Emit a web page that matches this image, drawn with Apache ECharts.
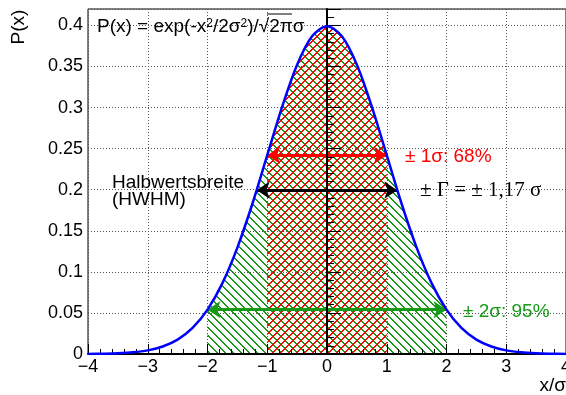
<!DOCTYPE html>
<html>
<head>
<meta charset="utf-8">
<script src="https://cdn.jsdelivr.net/npm/echarts@6/dist/echarts.min.js"></script>
<style>
html, body { margin: 0; padding: 0; background: #fff; }
#main { width: 566px; height: 395px; }
</style>
</head>
<body>
<div id="main"></div>
<script>
// x in units of sigma, P(x)
var xs = [-4, -3.75, -3.5, -3.25, -3, -2.75, -2.5, -2.25, -2, -1.75, -1.5, -1.25, -1, -0.75, -0.5, -0.25,
          0, 0.25, 0.5, 0.75, 1, 1.25, 1.5, 1.75, 2, 2.25, 2.5, 2.75, 3, 3.25, 3.5, 3.75, 4];
var ps = [0.0001, 0.0004, 0.0009, 0.0020, 0.0044, 0.0091, 0.0175, 0.0317, 0.0540, 0.0863, 0.1295, 0.1826, 0.2420, 0.3011, 0.3521, 0.3867,
          0.3989, 0.3867, 0.3521, 0.3011, 0.2420, 0.1826, 0.1295, 0.0863, 0.0540, 0.0317, 0.0175, 0.0091, 0.0044, 0.0020, 0.0009, 0.0004, 0.0001];
var band1 = [-1, 1];   // +-1 sigma
var band2 = [-2, 2];   // +-2 sigma
var arrowHalf  = [1, 1.177, 2];
var arrowLevel = [0.242, 0.1995, 0.054];
var peak = 0.3989;

var RED = '#ff0000', GREEN = '#169a16', BLUE = '#0000ff';
var FONT = '"Liberation Sans", Arial, sans-serif';

function pts(lo, hi) {
    var out = [];
    for (var i = 0; i < xs.length; i++) {
        if (xs[i] >= lo - 1e-9 && xs[i] <= hi + 1e-9) out.push([xs[i], ps[i]]);
    }
    return out;
}

// pixel hatch tile, no antialiasing (like ROOT's fill styles)
function hatch(color, dir) {
    var s = 8;
    var c = document.createElement('canvas');
    c.width = s; c.height = s;
    var g = c.getContext('2d');
    g.fillStyle = color;
    for (var y = 0; y < s; y++) {
        for (var x = 0; x < s; x++) {
            var d = dir > 0 ? ((x - y) % s + s) % s : (x + y) % s;
            if (d === 0 || d === 1) g.fillRect(x, y, 1, 1);
        }
    }
    return c;
}

function arrow(i, color) {
    var ls = { color: color, width: 3, type: 'solid' };
    return [
        { coord: [-arrowHalf[i], arrowLevel[i]], lineStyle: ls },
        { coord: [arrowHalf[i], arrowLevel[i]], lineStyle: ls }
    ];
}

var myChart = echarts.init(document.getElementById('main'));

var option = {
    animation: false,
    grid: { left: 88, right: 0, top: 9, bottom: 41, outerBoundsMode: 'none', containLabel: false,
            show: true, borderColor: '#000', borderWidth: 1 },
    xAxis: {
        type: 'value', min: -4, max: 4, interval: 1, z: 5,
        axisLine: { onZero: false, lineStyle: { color: '#000', width: 2 } },
        axisTick: { inside: true, length: 10, lineStyle: { color: '#000' } },
        minorTick: { show: true, splitNumber: 5, length: 5, lineStyle: { color: '#000' } },
        axisLabel: {
            color: '#000', fontSize: 18, fontFamily: FONT, margin: 4,
            formatter: function (v) { return String(v).replace('-', '\u2212'); }
        },
        splitLine: { show: true, lineStyle: { color: '#555', type: [1, 2], width: 1 } }
    },
    yAxis: {
        type: 'value', min: 0, max: 0.42, interval: 0.05, z: 5,
        axisLine: { lineStyle: { color: '#000', width: 2 } },
        axisTick: { inside: true, length: 14, lineStyle: { color: '#000' } },
        minorTick: { show: true, splitNumber: 5, length: 7, lineStyle: { color: '#000' } },
        axisLabel: {
            color: '#000', fontSize: 18, fontFamily: FONT, margin: 5,
            formatter: function (v) {
                if (v > 0.41) return '';
                return String(Math.round(v * 100) / 100);
            }
        },
        splitLine: { show: true, lineStyle: { color: '#555', type: [1, 2], width: 1 } }
    },
    series: [
        {
            type: 'line', data: pts(band2[0], band2[1]), smooth: 0.3, showSymbol: false, z: 1,
            lineStyle: { width: 0 },
            areaStyle: { color: { image: hatch(GREEN, 1), repeat: 'repeat' }, opacity: 1 }
        },
        {
            type: 'line', data: pts(band1[0], band1[1]), smooth: 0.3, showSymbol: false, z: 2,
            lineStyle: { width: 0 },
            areaStyle: { color: { image: hatch(RED, -1), repeat: 'repeat' }, opacity: 1 }
        },
        {
            type: 'line', data: [[0, 0], [0, peak]], showSymbol: false, z: 6,
            lineStyle: { color: '#000', width: 1 }
        },
        {
            type: 'line', data: pts(-4, 4), smooth: 0.3, showSymbol: false, z: 10,
            lineStyle: { color: BLUE, width: 2.5 }
        },
        {
            type: 'line', data: [], z: 11,
            markLine: {
                silent: true, animation: false,
                symbol: ['arrow', 'arrow'], symbolSize: 13,
                label: { show: false },
                data: [arrow(0, RED), arrow(1, '#000'), arrow(2, GREEN)]
            }
        }
    ],
    graphic: [
        {
            type: 'text', x: 97, y: 27, z: 20,
            style: {
                text: 'P(x) = exp(-x{s|2}/2\u03c3{s|2})/\u221a2\u03c0\u03c3',
                font: '19px ' + FONT, fill: '#000', verticalAlign: 'middle',
                rich: { s: { fontSize: 12, verticalAlign: 'top', lineHeight: 12, fontFamily: FONT } }
            }
        },
        { type: 'line', z: 20, shape: { x1: 267, y1: 14, x2: 292, y2: 14 }, style: { stroke: '#000', lineWidth: 1 } },
        {
            type: 'text', x: 19, y: 27, rotation: Math.PI / 2,
            style: { text: 'P(x)', font: '19px ' + FONT, fill: '#000', align: 'center', verticalAlign: 'middle' }
        },
        {
            type: 'text', x: 566, y: 386,
            style: { text: 'x/\u03c3', font: '19px ' + FONT, fill: '#000', align: 'right', verticalAlign: 'middle' }
        },
        {
            type: 'text', x: 405, y: 157, z: 20,
            style: { text: '\u00b1 1\u03c3: 68%', font: '19px ' + FONT, fill: RED, verticalAlign: 'middle' }
        },
        {
            type: 'text', x: 420, y: 190, z: 20,
            style: { text: '\u00b1 \u0393 = \u00b1 1,17 \u03c3', font: '21px "Liberation Serif", serif', fill: '#000', verticalAlign: 'middle' }
        },
        {
            type: 'text', x: 463, y: 312, z: 20,
            style: { text: '\u00b1 2\u03c3: 95%', font: '19px ' + FONT, fill: GREEN, verticalAlign: 'middle' }
        },
        {
            type: 'text', x: 112, y: 183, z: 20,
            style: { text: 'Halbwertsbreite', font: '19px ' + FONT, fill: '#000', verticalAlign: 'middle' }
        },
        {
            type: 'text', x: 112, y: 200, z: 20,
            style: { text: '(HWHM)', font: '19px ' + FONT, fill: '#000', verticalAlign: 'middle' }
        }
    ]
};

myChart.setOption(option);
</script>
</body>
</html>
